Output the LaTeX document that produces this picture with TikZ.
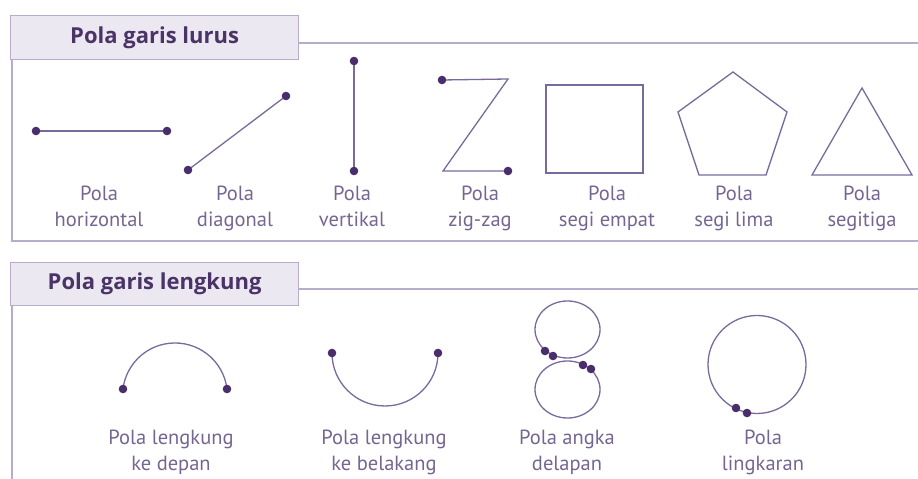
\documentclass[tikz,border=0pt]{standalone}
\usepackage{fontspec}
\setmainfont{PT Sans}
\newfontfamily\headfont{Open Sans}
\definecolor{framec}{HTML}{B7ACCB}
\definecolor{headfill}{HTML}{ECE8F1}
\definecolor{headtext}{HTML}{4A3366}
\definecolor{shapec}{HTML}{7A6A9C}
\definecolor{dotc}{HTML}{4A2D6B}
\definecolor{labc}{HTML}{756591}
\begin{document}
\begin{tikzpicture}[x=1pt,y=1pt,
  frameline/.style={draw=framec,line width=1.4pt},
  headbox/.style={draw=framec,fill=headfill,line width=1.2pt,minimum width=288pt,minimum height=44pt,inner sep=0pt},
  headlabel/.style={text=headtext,font=\headfont\fontsize{22}{26}\selectfont\bfseries,inner sep=0pt},
  shp/.style={draw=shapec,line width=1.3pt,line join=miter},
  lab/.style={text=labc,font=\fontsize{20.5}{26}\selectfont,align=center,inner sep=0pt,anchor=north},
  dotr/.style={fill=dotc}
]
\useasboundingbox (0,0) rectangle (918,479);
% ---------- top section ----------
\coordinate (tl1) at (298,436);
\coordinate (tl2) at (918,436);
\coordinate (tv1) at (12,419);
\coordinate (tv2) at (12,238);
\coordinate (tb2) at (918,238);
\draw[frameline] (tl1) -- (tl2);
\draw[frameline] (tv1) -- (tv2) -- (tb2);
\node[headbox,anchor=north west] (hb1) at (10,464) {};
\node[headlabel] (ht1) at (hb1.center) {Pola garis lurus};
% horizontal
\coordinate (h1) at (36,348); \coordinate (h2) at (167,348);
\draw[shp] (h1) -- (h2);
% diagonal
\coordinate (d1) at (188,309); \coordinate (d2) at (286,383);
\draw[shp] (d1) -- (d2);
% vertical
\coordinate (v1) at (354,418); \coordinate (v2) at (354,308);
\draw[shp] (v1) -- (v2);
% zig-zag
\coordinate (z1) at (442,399); \coordinate (z2) at (508,400);
\coordinate (z3) at (443,308); \coordinate (z4) at (508,308);
\draw[shp] (z1) -- (z2) -- (z3) -- (z4);
% square
\coordinate (s1) at (546,306); \coordinate (s2) at (643,394);
\draw[shp] (s1) rectangle (s2);
% pentagon
\coordinate (p1) at (733,407); \coordinate (p2) at (787,367);
\coordinate (p3) at (766,304); \coordinate (p4) at (699,304);
\coordinate (p5) at (678,367);
\draw[shp] (p1) -- (p2) -- (p3) -- (p4) -- (p5) -- cycle;
% triangle
\coordinate (t1) at (862,391); \coordinate (t2) at (912,304);
\coordinate (t3) at (812,304);
\draw[shp] (t1) -- (t2) -- (t3) -- cycle;
% dots
\foreach \p in {h1,h2,d1,d2,v1,v2,z1,z4}
  \fill[dotr] (\p) circle (4.3);
% labels
\node[lab] (l1) at (99,293) {Pola\\horizontal};
\node[lab] (l2) at (235,293) {Pola\\diagonal};
\node[lab] (l3) at (352,293) {Pola\\vertikal};
\node[lab] (l4) at (480,293) {Pola\\zig-zag};
\node[lab] (l5) at (607,293) {Pola\\segi empat};
\node[lab] (l6) at (734,293) {Pola\\segi lima};
\node[lab] (l7) at (862,293) {Pola\\segitiga};
% ---------- bottom section ----------
\coordinate (bl1) at (298,190);
\coordinate (bl2) at (918,190);
\coordinate (bv1) at (12,174);
\coordinate (bv2) at (12,0);
\draw[frameline] (bl1) -- (bl2);
\draw[frameline] (bv1) -- (bv2);
\node[headbox,anchor=north west,minimum height=43pt] (hb2) at (10,217) {};
\node[headlabel] (ht2) at (hb2.center) {Pola garis lengkung};
% arc front
\coordinate (a1) at (227,90); \coordinate (a2) at (123,90);
\draw[shp] (a1) arc[start angle=7,end angle=173,radius=52.4];
% arc back
\coordinate (b1) at (332,126); \coordinate (b2) at (438,126);
\draw[shp] (b1) arc[start angle=180,end angle=360,radius=53];
% figure eight
\coordinate (e1) at (567.5,149.5); \coordinate (e2) at (567.5,89.5);
\draw[shp] (e1) ellipse[x radius=32.5,y radius=28.5];
\draw[shp] (e2) ellipse[x radius=32.5,y radius=28.5];
\coordinate (ed1) at (545,128); \coordinate (ed2) at (553,123);
\coordinate (ed3) at (583,114); \coordinate (ed4) at (591,110);
% circle
\coordinate (c0) at (757,114.5);
\draw[shp] (c0) circle (49);
\coordinate (cd1) at (736,71); \coordinate (cd2) at (747,66);
\foreach \p in {a1,a2,b1,b2,ed1,ed2,ed3,ed4,cd1,cd2}
  \fill[dotr] (\p) circle (4.3);
% labels
\node[lab] (m1) at (171,49) {Pola lengkung\\ke depan};
\node[lab] (m2) at (384,49) {Pola lengkung\\ke belakang};
\node[lab] (m3) at (567,49) {Pola angka\\delapan};
\node[lab] (m4) at (763,49) {Pola\\lingkaran};
\end{tikzpicture}
\end{document}
